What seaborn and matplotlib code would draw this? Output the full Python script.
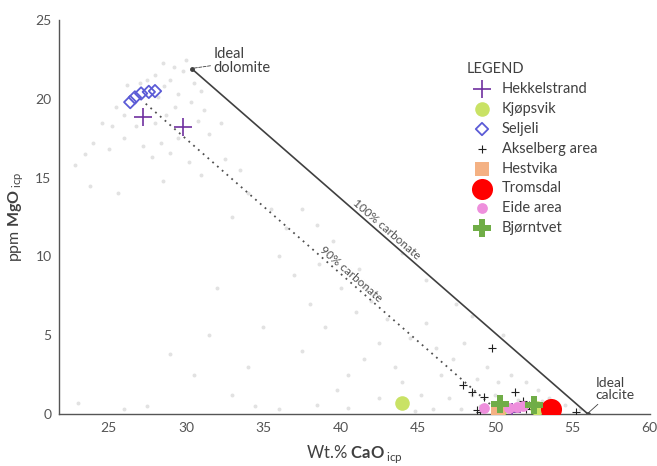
import matplotlib
matplotlib.use("Agg")
import matplotlib.pyplot as plt
from matplotlib.ticker import MultipleLocator
import seaborn as sns

# background database samples (CaO wt.%, MgO)
bg_cao = [28.5, 29.2, 29.8, 30.0, 28.0, 27.5, 29.0, 28.6, 30.5, 31.0, 29.5, 28.2, 27.0, 26.2,
          25.5, 26.0, 25.2, 24.6, 26.8, 28.0, 28.7, 29.3, 30.3, 31.2, 30.8, 29.5, 28.4, 27.2,
          26.0, 24.0, 23.5, 25.0, 27.8, 29.0, 30.2, 31.5, 32.3, 23.8, 25.6, 28.5, 31.0, 32.5,
          33.5, 22.8, 34.0, 35.5, 33.0, 36.5, 37.5, 38.5, 39.5, 36.0, 37.0, 38.6, 40.0, 41.2,
          42.0, 41.0, 43.0, 39.0, 35.0, 29.0, 30.5, 33.0, 27.5, 23.0, 26.0, 34.5, 36.0, 38.5,
          39.8, 40.5, 41.5, 42.5, 43.5, 44.5, 45.5, 46.2, 44.0, 42.5, 40.5, 45.2, 46.5, 47.3,
          48.0, 47.0, 46.0, 44.8, 38.0, 37.5, 45.5, 44.0, 47.5, 48.5, 50.5, 49.5, 48.8, 50.2,
          51.0, 52.0, 52.8, 53.5, 54.5, 55.5, 49.0, 50.0, 51.5, 52.5, 53.0, 47.8, 48.5, 32.0,
          34.0, 31.5]
bg_mgo = [22.3, 22.0, 21.8, 22.5, 21.5, 21.2, 21.2, 20.8, 21.0, 20.5, 20.3, 20.1, 21.0, 20.9,
          19.5, 19.0, 18.3, 18.5, 18.3, 18.5, 19.0, 19.5, 19.8, 19.3, 18.6, 17.5, 17.2, 17.0,
          17.5, 17.2, 16.5, 16.8, 16.3, 16.6, 16.0, 17.8, 18.5, 14.5, 14.0, 14.8, 15.2, 16.2,
          15.5, 15.8, 14.0, 13.0, 12.5, 11.8, 13.0, 12.0, 11.0, 10.0, 8.8, 9.5, 8.0, 9.2,
          7.2, 6.5, 6.0, 5.5, 5.5, 3.8, 2.5, 1.2, 0.5, 0.7, 0.3, 0.5, 0.3, 0.6,
          1.5, 2.5, 3.5, 4.5, 3.0, 4.8, 5.8, 4.2, 2.0, 1.0, 0.4, 1.2, 2.5, 3.5,
          4.5, 1.0, 0.3, 0.2, 7.0, 4.0, 8.5, 10.2, 7.0, 6.2, 5.0, 3.0, 2.2, 2.0,
          2.5, 2.0, 1.5, 1.0, 0.6, 0.3, 0.5, 1.2, 0.9, 0.3, 0.8, 0.3, 1.2, 8.0,
          3.0, 5.0]

# sample groups
hekkel_cao = [27.2, 29.8, 51.1]
hekkel_mgo = [18.85, 18.25, 0.1]
kjopsvik_cao = [44.0, 52.7, 50.3]
kjopsvik_mgo = [0.7, 0.4, 0.3]
seljeli_cao = [26.4, 26.7, 27.1, 27.6, 28.0]
seljeli_mgo = [19.8, 20.1, 20.35, 20.45, 20.5]
aksel_cao = [49.8, 47.9, 48.5, 49.3, 48.8, 51.3, 51.8, 52.2, 55.2, 50.6, 52.0, 49.0]
aksel_mgo = [4.2, 1.85, 1.4, 1.1, 0.25, 1.4, 0.8, 0.6, 0.15, 0.3, 0.3, 0.1]
hestvika_cao = [50.2]
hestvika_mgo = [0.05]
tromsdal_cao = [53.6]
tromsdal_mgo = [0.3]
eide_cao = [49.3, 51.4, 51.8, 50.9]
eide_mgo = [0.4, 0.45, 0.5, 0.35]
bjorn_cao = [50.3, 52.5]
bjorn_mgo = [0.65, 0.55]

# ideal end members: dolomite and calcite, 100 % and 90 % carbonate
line100_cao = [30.4, 56.0]
line100_mgo = [21.9, 0.0]
line90_cao = [27.4, 50.4]
line90_mgo = [19.7, 0.0]

sns.set_theme(style="white")
plt.rcParams["font.family"] = ["Lato", "DejaVu Sans"]
plt.rcParams["mathtext.fontset"] = "custom"
plt.rcParams["mathtext.rm"] = "Lato"
plt.rcParams["mathtext.bf"] = "Lato:bold"

txt = "#404040"
fig = plt.figure(figsize=(6.57, 4.66), dpi=100)
ax = fig.add_axes([0.090, 0.1116, 0.899, 0.845])

sns.scatterplot(x=bg_cao, y=bg_mgo, ax=ax, color="#e2e2e2", s=8, linewidth=0, zorder=1)

ax.plot(line100_cao, line100_mgo, color="#404040", lw=1.2, zorder=2)
ax.plot(line90_cao, line90_mgo, color="#505050", lw=1.3, ls=(0, (1, 2.5)), zorder=2)
ax.plot(line100_cao, line100_mgo, ls="none", marker="o", ms=2.5, color="#404040", zorder=2)

groups = [
    ("Hekkelstrand", hekkel_cao, hekkel_mgo, dict(marker="+", s=150, color="#7030a0", linewidth=1.2)),
    ("Kjøpsvik", kjopsvik_cao, kjopsvik_mgo, dict(marker="o", s=110, color="#c9e265", linewidth=0)),
    ("Seljeli", seljeli_cao, seljeli_mgo, dict(marker="D", s=40, facecolor="none", edgecolor="#5b5bd6", linewidth=1.3)),
    ("Akselberg area", aksel_cao, aksel_mgo, dict(marker="+", s=30, color="#202020", linewidth=0.8)),
    ("Hestvika", hestvika_cao, hestvika_mgo, dict(marker="s", s=90, color="#f4b183", linewidth=0)),
    ("Tromsdal", tromsdal_cao, tromsdal_mgo, dict(marker="o", s=230, color="#ff0000", linewidth=0)),
    ("Eide area", eide_cao, eide_mgo, dict(marker="o", s=60, color="#ee8fdc", linewidth=0)),
    ("Bjørntvet", bjorn_cao, bjorn_mgo, dict(marker="P", s=160, color="#70ad47", linewidth=0)),
]
for name, xs, ys, kw in groups:
    sns.scatterplot(x=xs, y=ys, ax=ax, label=name, zorder=3, **kw)

ax.set_xlim(21.8, 60)
ax.set_ylim(0, 25)
ax.xaxis.set_major_locator(MultipleLocator(5))
ax.yaxis.set_major_locator(MultipleLocator(5))
ax.yaxis.set_minor_locator(MultipleLocator(1))
ax.xaxis.set_minor_locator(MultipleLocator(1))
ax.tick_params(which="major", direction="inout", length=5, width=0.8, color="#555555",
               labelsize=10, labelcolor="#555555", pad=3)
ax.tick_params(which="minor", direction="in", length=2, width=0.6, color="#888888")
for side in ["top", "right"]:
    ax.spines[side].set_visible(False)
for side in ["left", "bottom"]:
    ax.spines[side].set_color("#555555")
    ax.spines[side].set_linewidth(1.0)

ax.set_xlabel(r"Wt.% $\mathbf{CaO}\,_{\mathrm{icp}}$", fontsize=12, color=txt)
ax.set_ylabel(r"ppm $\mathbf{MgO}\,_{\mathrm{icp}}$", fontsize=11.5, color=txt)
ax.xaxis.set_label_coords(0.5, -0.075)
ax.yaxis.set_label_coords(-0.056, 0.5)

ax.annotate("Ideal\ndolomite", xy=(30.45, 21.95), xytext=(31.8, 22.4), fontsize=10.5,
            color=txt, ha="left", va="center", linespacing=1.05,
            arrowprops=dict(arrowstyle="-", color="#404040", lw=0.6, ls="--", shrinkA=0, shrinkB=1))
ax.annotate("Ideal\ncalcite", xy=(56.0, 0.05), xytext=(56.5, 1.6), fontsize=10,
            color=txt, ha="left", va="center", linespacing=1.05,
            arrowprops=dict(arrowstyle="-", color="#404040", lw=0.6, shrinkA=0, shrinkB=1))
ax.text(43.0, 11.75, "100% carbonate", rotation=-41, rotation_mode="anchor",
        ha="center", va="center", fontsize=8.5, color="#505050")
ax.text(40.7, 8.85, "90% carbonate", rotation=-41, rotation_mode="anchor",
        ha="center", va="center", fontsize=8.5, color="#505050")

leg = ax.legend(title="LEGEND", loc="upper left", bbox_to_anchor=(0.690, 0.893),
                frameon=False, fontsize=10.5, title_fontsize=10.5, alignment="left",
                labelspacing=0.4, handletextpad=0.3, handlelength=2.1, borderaxespad=0,
                borderpad=0)
for t in leg.get_texts():
    t.set_color(txt)
leg.get_title().set_color(txt)

fig.savefig("out.png", dpi=100)
